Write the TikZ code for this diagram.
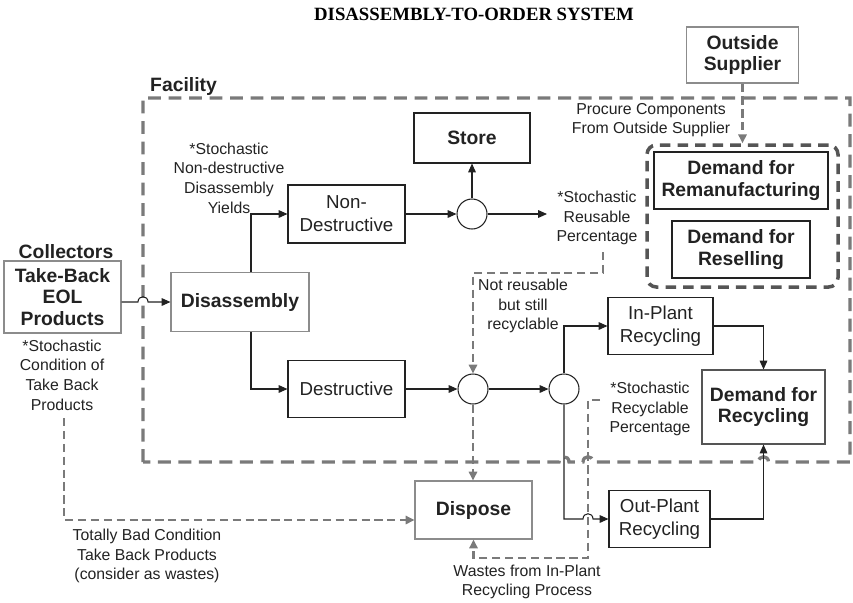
\documentclass[tikz,border=0pt]{standalone}
\usepackage{fontspec}
\setmainfont{Liberation Sans}
\newfontfamily\titlefont{Liberation Serif}
\usetikzlibrary{arrows.meta,calc}

\definecolor{inkgray}{HTML}{222222}
\definecolor{framegray}{HTML}{7A7A7A}
\definecolor{groupgray}{HTML}{555555}
\definecolor{boxgray}{HTML}{8C8C8C}

\tikzset{
	boxsize/.style 2 args={minimum width=#1*0.03cm, minimum height=#2*0.03cm},
	proc/.style={draw=inkgray, line width=0.9pt, inner sep=0pt, align=center, text=inkgray,
		font=\fontsize{16}{19.5}\selectfont},
	procbold/.style={proc, font=\fontsize{16.5}{18.5}\selectfont\bfseries},
	outer/.style={procbold, draw=boxgray},
	junction/.style={circle, draw=inkgray, line width=0.9pt, minimum size=30*0.03cm, inner sep=0pt},
	note/.style={align=center, inner sep=0pt, text=inkgray, font=\fontsize{13.5}{16.8}\selectfont},
	heading/.style={inner sep=0pt, text=inkgray, font=\fontsize{16.5}{18.5}\selectfont\bfseries},
	flow/.style={draw=inkgray, line width=0.9pt, -{Triangle[length=7.5pt, width=6.5pt]}},
	waste/.style={draw=framegray, line width=2pt, dash pattern=on 7pt off 4pt,
		-{Triangle[length=7.5pt, width=7pt, fill=framegray]}},
	facility/.style={draw=framegray, line width=2.8pt, dash pattern=on 11pt off 6.5pt},
	group/.style={draw=groupgray, line width=3pt, dash pattern=on 9pt off 6pt, rounded corners=8pt}
}

\begin{document}
\begin{tikzpicture}[x=0.03cm, y=-0.03cm]
	\useasboundingbox (0,0) rectangle (853,602);
	
	\node[inner sep=0pt, font=\titlefont\fontsize{16}{18}\selectfont\bfseries] (title) at (474,14) {DISASSEMBLY-TO-ORDER SYSTEM};
	
	% facility boundary
	\draw[facility] (143,462) -- (143,98) -- (850,98) -- (850,462) -- (768.5,462)
		.. controls (768.5,455) and (758.5,455) .. (758.5,462) -- (593,462)
		.. controls (593,455) and (583,455) .. (583,462) -- (569,462)
		.. controls (569,455) and (559,455) .. (559,462) -- cycle;
	\node[heading, anchor=west] (facility) at (150,86) {Facility};
	
	% boxes
	\node[outer, boxsize={112}{56}] (supplier) at (742.5,55) {Outside\\Supplier};
	\node[group, boxsize={191}{142}] (demgroup) at (742.5,216) {};
	\node[procbold, boxsize={174}{57}] (remanu) at (741,180.5) {Demand for\\Remanufacturing};
	\node[procbold, boxsize={138}{57}] (resell) at (741,249.5) {Demand for\\Reselling};
	\node[procbold, boxsize={116}{50}] (store) at (472,138) {Store};
	\node[proc, boxsize={117}{58}] (nondes) at (346.5,214) {Non-\\Destructive};
	\node[outer, boxsize={138}{59}] (disasm) at (240,302) {Disassembly};
	\node[outer, boxsize={117}{72}] (collect) at (62.5,297) {Take-Back\\EOL\\Products};
	\node[heading] (collectors) at (66,252) {Collectors};
	\node[proc, boxsize={117}{57}] (des) at (346.5,389) {Destructive};
	\node[proc, boxsize={105}{57}] (inplant) at (660.5,326) {In-Plant\\Recycling};
	\node[procbold, draw=groupgray, boxsize={123}{74}] (demrec) at (763.5,407) {Demand for\\Recycling};
	\node[outer, boxsize={117}{58}] (dispose) at (473.5,510) {Dispose};
	\node[proc, boxsize={101}{57}] (outplant) at (659.5,519) {Out-Plant\\Recycling};
	
	\node[junction] (c1) at (472,214) {};
	\node[junction] (c2) at (473,389) {};
	\node[junction] (c3) at (564,389) {};
	
	% notes
	\node[note] (yields) at (229,178) {*Stochastic\\Non-destructive\\Disassembly\\Yields};
	\node[note] (reusable) at (597,218) {*Stochastic\\Reusable\\Percentage};
	\node[note] (procure) at (651,120) {Procure Components\\From Outside Supplier};
	\node[note] (notreuse) at (523,306) {Not reusable\\but still\\recyclable};
	\node[note] (condition) at (62,375) {*Stochastic\\Condition of\\Take Back\\Products};
	\node[note] (badcond) at (147,556) {Totally Bad Condition\\Take Back Products\\(consider as wastes)};
	\node[note] (recyclable) at (650,409) {*Stochastic\\Recyclable\\Percentage};
	\node[note] (wastes) at (527,582) {Wastes from In-Plant\\Recycling Process};
	
	\coordinate (reuseend) at (547,214);
	\coordinate (reusefoot) at (603,252);
	\coordinate (reusebend) at (473,273);
	\coordinate (condfoot) at (64,418);
	\coordinate (recycstart) at (600,400);
	
	% material flows
	\draw[flow] (collect.east |- disasm) -- (138,302)
		.. controls (138,295) and (148,295) .. (148,302) -- (disasm.west);
	\draw[flow] ($(disasm.north)+(11,0)$) |- (nondes.west);
	\draw[flow] ($(disasm.south)+(11,0)$) |- (des.west);
	\draw[flow] (nondes.east) -- (c1.west);
	\draw[flow] (c1.north) -- (store.south);
	\draw[flow] (c1.east) -- (reuseend);
	\draw[flow] (des.east) -- (c2.west);
	\draw[flow] (c2.east) -- (c3.west);
	\draw[flow] (c3.north) |- (inplant.west);
	\draw[flow] (c3.south) |- (583,519)
		.. controls (583,512) and (593,512) .. (593,519) -- (outplant.west);
	\draw[flow] (inplant.east) -| (demrec.north);
	\draw[flow] (outplant.east) -| (demrec.south);
	
	% dashed flows
	\draw[waste] (supplier.south) -- (supplier.south |- demgroup.north);
	\draw[waste] (reusefoot) |- (reusebend) -- (c2.north);
	\draw[waste] (c2.south) -- (c2.south |- dispose.north);
	\draw[waste] (condfoot) |- ($(dispose.west)+(0,10)$);
	\draw[waste] (recycstart) -| (588,558) -| (dispose.south);
\end{tikzpicture}
\end{document}
